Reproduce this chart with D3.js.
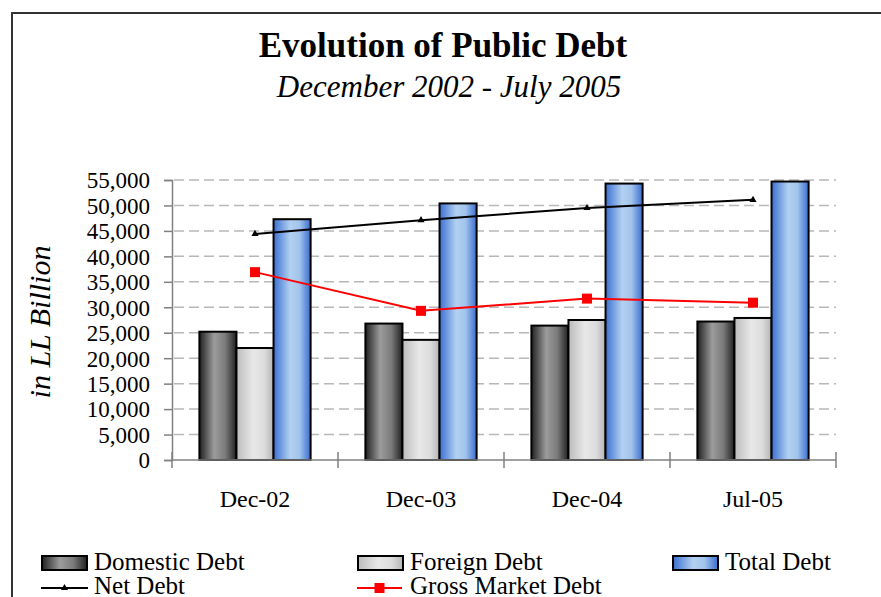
<!DOCTYPE html>
<html>
<head>
<meta charset="utf-8">
<script src="https://cdn.jsdelivr.net/npm/d3@7"></script>
<style>
  body { margin: 0; background: #fff; }
  svg { display: block; font-family: "Liberation Serif", "Times New Roman", serif; }
</style>
</head>
<body>
<div id="chart"></div>
<script>
// Evolution of Public Debt, Dec 2002 - Jul 2005 (LL billion)
const categories = ['Dec-02', 'Dec-03', 'Dec-04', 'Jul-05'];
const domesticDebt = [25200, 26800, 26400, 27200];
const foreignDebt = [22000, 23600, 27500, 27900];
const totalDebt = [47300, 50400, 54300, 54700];
const netDebt = [44400, 47100, 49500, 51100];
const grossMarketDebt = [36900, 29300, 31700, 30900];
const yTicks = [0, 5000, 10000, 15000, 20000, 25000, 30000, 35000, 40000, 45000, 50000, 55000];

const barSeries = [
    { key: 'domestic', name: 'Domestic Debt', values: domesticDebt, fill: 'url(#g-dark)' },
    { key: 'foreign', name: 'Foreign Debt', values: foreignDebt, fill: 'url(#g-light)' },
    { key: 'total', name: 'Total Debt', values: totalDebt, fill: 'url(#g-blue)' }
];

const W = 881, H = 597;
const svg = d3.select('#chart').append('svg')
    .attr('width', W).attr('height', H);

// gradients for the 3D-ish cylinder look
const defs = svg.append('defs');
function grad(id, stops) {
    const g = defs.append('linearGradient').attr('id', id)
        .attr('x1', '0%').attr('x2', '100%').attr('y1', '0%').attr('y2', '0%');
    stops.forEach(s => g.append('stop').attr('offset', s[0]).attr('stop-color', s[1]));
}
grad('g-dark', [['0%', '#202020'], ['40%', '#9c9c9c'], ['70%', '#7a7a7a'], ['100%', '#202020']]);
grad('g-light', [['0%', '#bcbcbc'], ['45%', '#e8e8e8'], ['75%', '#dcdcdc'], ['100%', '#b4b4b4']]);
grad('g-blue', [['0%', '#3b6fd2'], ['45%', '#b2d1f1'], ['70%', '#a2c4ec'], ['100%', '#3a6cd0']]);

// outer frame
svg.append('rect')
    .attr('x', 12).attr('y', 13)
    .attr('width', 900).attr('height', 700)
    .attr('fill', 'none').attr('stroke', '#333').attr('stroke-width', 2);

// titles
svg.append('text')
    .attr('x', 443).attr('y', 57)
    .attr('text-anchor', 'middle')
    .attr('font-size', 35).attr('font-weight', 'bold')
    .text('Evolution of Public Debt');
svg.append('text')
    .attr('x', 449).attr('y', 97)
    .attr('text-anchor', 'middle')
    .attr('font-size', 31).attr('font-style', 'italic')
    .text('December 2002 - July 2005');

// scales
const x0 = d3.scaleBand()
    .domain(categories)
    .range([172, 836])
    .paddingInner(0.33)
    .paddingOuter(0.165);
const x1 = d3.scaleBand()
    .domain(barSeries.map(s => s.key))
    .range([0, x0.bandwidth()]);
const y = d3.scaleLinear()
    .domain([0, 55000])
    .range([460, 180]);

// gridlines
svg.append('g')
    .selectAll('line')
    .data(yTicks.filter(t => t > 0))
    .enter().append('line')
    .attr('x1', 174).attr('x2', 836)
    .attr('y1', d => y(d)).attr('y2', d => y(d))
    .attr('stroke', '#b8b8b8')
    .attr('stroke-width', 1.5)
    .attr('stroke-dasharray', '10,5');

// y axis
const yAxis = svg.append('g')
    .attr('transform', 'translate(172,0)')
    .call(d3.axisLeft(y).tickValues(yTicks).tickSize(8).tickPadding(14)
        .tickFormat(d3.format(',')))
    .attr('font-family', '"Liberation Serif", "Times New Roman", serif')
    .attr('font-size', 23);
yAxis.select('.domain').attr('stroke', '#808080').attr('stroke-width', 1.5);
yAxis.selectAll('.tick line').attr('stroke', '#808080').attr('stroke-width', 1.5);
yAxis.selectAll('.tick text')
    .attr('fill', '#000')
    .attr('dy', '0.34em');

svg.append('text')
    .attr('transform', 'translate(50,322) rotate(-90)')
    .attr('text-anchor', 'middle')
    .attr('font-size', 30).attr('font-style', 'italic')
    .text('in LL Billion');

// bars
const groups = svg.append('g')
    .selectAll('g')
    .data(categories)
    .enter().append('g')
    .attr('transform', d => `translate(${x0(d)},0)`);

groups.selectAll('rect')
    .data((c, i) => barSeries.map(s => ({ s, v: s.values[i] })))
    .enter().append('rect')
    .attr('x', d => x1(d.s.key))
    .attr('y', d => y(d.v))
    .attr('width', x1.bandwidth())
    .attr('height', d => y(0) - y(d.v))
    .attr('fill', d => d.s.fill)
    .attr('stroke', '#000')
    .attr('stroke-width', 2);

// x axis
const xAxisG = svg.append('g');
xAxisG.append('line')
    .attr('x1', 172).attr('x2', 836)
    .attr('y1', y(0)).attr('y2', y(0))
    .attr('stroke', '#808080').attr('stroke-width', 1.5);
const bounds = categories.map(c => x0(c) - x0.step() * x0.paddingInner() / 2);
bounds.push(836);
xAxisG.selectAll('.xt')
    .data(bounds)
    .enter().append('line')
    .attr('x1', d => d).attr('x2', d => d)
    .attr('y1', y(0) - 8).attr('y2', y(0) + 8)
    .attr('stroke', '#808080').attr('stroke-width', 1.5);
xAxisG.selectAll('text')
    .data(categories)
    .enter().append('text')
    .attr('x', d => x0(d) + x0.bandwidth() / 2)
    .attr('y', 507)
    .attr('text-anchor', 'middle')
    .attr('font-size', 24)
    .text(d => d);

// lines
const cx = (d, i) => x0(categories[i]) + x0.bandwidth() / 2;
const line = d3.line().x(cx).y(d => y(d));

svg.append('path')
    .datum(netDebt)
    .attr('d', line)
    .attr('fill', 'none').attr('stroke', '#000').attr('stroke-width', 2);
svg.append('g').selectAll('path')
    .data(netDebt)
    .enter().append('path')
    .attr('d', d3.symbol().type(d3.symbolTriangle).size(22))
    .attr('transform', (d, i) => `translate(${cx(d, i)},${y(d)})`)
    .attr('fill', '#000');

svg.append('path')
    .datum(grossMarketDebt)
    .attr('d', line)
    .attr('fill', 'none').attr('stroke', '#ff0000').attr('stroke-width', 2);
svg.append('g').selectAll('rect')
    .data(grossMarketDebt)
    .enter().append('rect')
    .attr('x', (d, i) => cx(d, i) - 5)
    .attr('y', d => y(d) - 5)
    .attr('width', 10).attr('height', 10)
    .attr('fill', '#ff0000');

// legend
const legend = svg.append('g').attr('font-size', 25);
const swatches = [
    { x: 42, fill: 'url(#g-dark)', label: barSeries[0].name },
    { x: 358, fill: 'url(#g-light)', label: barSeries[1].name },
    { x: 673, fill: 'url(#g-blue)', label: barSeries[2].name }
];
swatches.forEach(s => {
    legend.append('rect')
        .attr('x', s.x).attr('y', 556)
        .attr('width', 45).attr('height', 14)
        .attr('fill', s.fill).attr('stroke', '#000').attr('stroke-width', 2);
    legend.append('text')
        .attr('x', s.x + 52).attr('y', 570)
        .text(s.label);
});

legend.append('line')
    .attr('x1', 41).attr('x2', 88).attr('y1', 588).attr('y2', 588)
    .attr('stroke', '#000').attr('stroke-width', 2);
legend.append('path')
    .attr('d', d3.symbol().type(d3.symbolTriangle).size(22))
    .attr('transform', 'translate(64.5,588)')
    .attr('fill', '#000');
legend.append('text').attr('x', 94).attr('y', 594).text('Net Debt');

legend.append('line')
    .attr('x1', 357).attr('x2', 402).attr('y1', 588).attr('y2', 588)
    .attr('stroke', '#ff0000').attr('stroke-width', 2);
legend.append('rect')
    .attr('x', 374.5).attr('y', 583).attr('width', 10).attr('height', 10)
    .attr('fill', '#ff0000');
legend.append('text').attr('x', 410).attr('y', 594).text('Gross Market Debt');
</script>
</body>
</html>
